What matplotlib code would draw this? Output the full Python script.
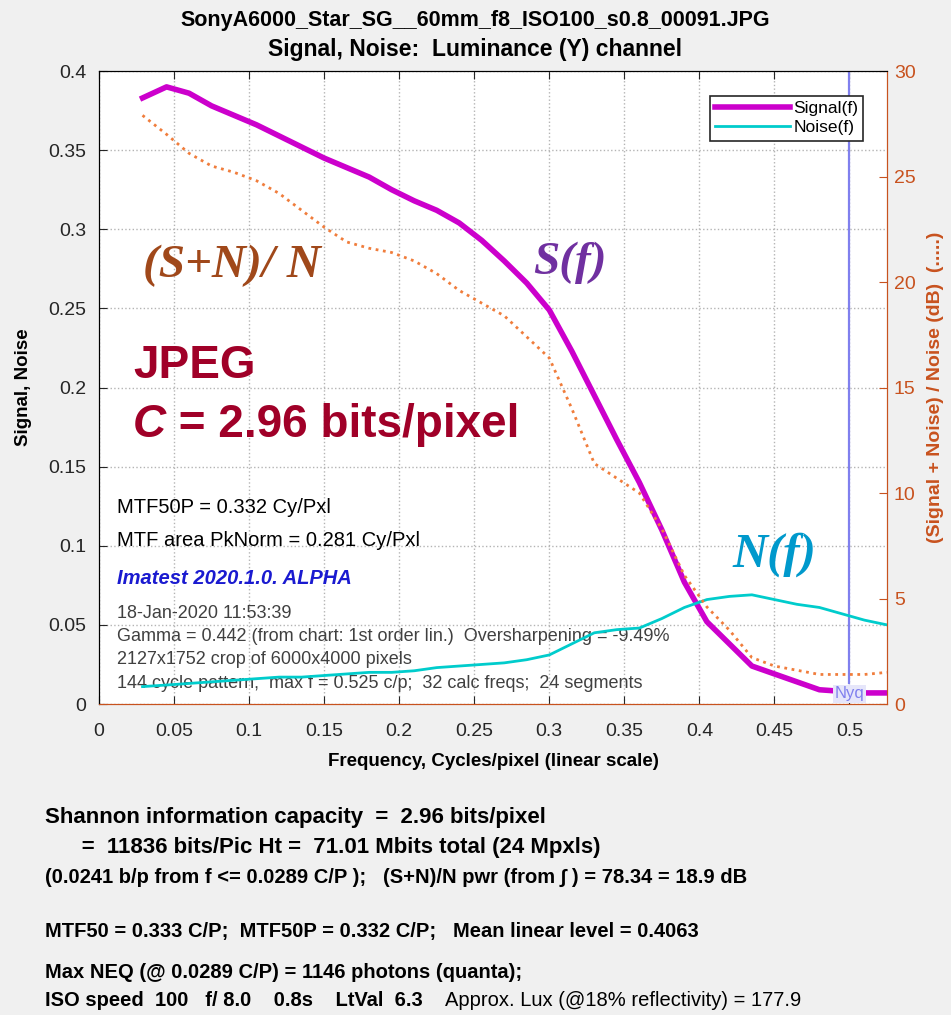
import matplotlib
matplotlib.use("Agg")
import matplotlib.pyplot as plt
from matplotlib.patches import Rectangle

# values
freq = [0.029, 0.045, 0.06, 0.075, 0.09, 0.105, 0.12, 0.135, 0.15, 0.165, 0.18, 0.195,
        0.21, 0.225, 0.24, 0.255, 0.27, 0.285, 0.30, 0.315, 0.33, 0.345, 0.36, 0.375,
        0.39, 0.405, 0.42, 0.435, 0.45, 0.465, 0.48, 0.495, 0.51, 0.525]
signal = [0.383, 0.390, 0.386, 0.378, 0.372, 0.366, 0.359, 0.352, 0.345, 0.339, 0.333, 0.325,
          0.318, 0.312, 0.304, 0.293, 0.280, 0.266, 0.249, 0.223, 0.195, 0.167, 0.140, 0.110,
          0.077, 0.052, 0.038, 0.024, 0.019, 0.014, 0.009, 0.008, 0.007, 0.007]
noise = [0.011, 0.012, 0.013, 0.014, 0.015, 0.016, 0.017, 0.017, 0.018, 0.019, 0.020, 0.020,
         0.021, 0.023, 0.024, 0.025, 0.026, 0.028, 0.031, 0.038, 0.045, 0.047, 0.048, 0.054,
         0.061, 0.066, 0.068, 0.069, 0.066, 0.063, 0.061, 0.057, 0.053, 0.050]
snr_db = [27.9, 27.0, 26.1, 25.5, 25.2, 24.8, 24.2, 23.4, 22.6, 21.9, 21.6, 21.4,
          21.0, 20.4, 19.6, 19.0, 18.4, 17.4, 16.4, 14.0, 11.4, 10.7, 10.0, 8.3,
          6.1, 4.6, 3.5, 2.2, 1.8, 1.6, 1.4, 1.4, 1.4, 1.5]
nyq = 0.5

xticks = [0, 0.05, 0.1, 0.15, 0.2, 0.25, 0.3, 0.35, 0.4, 0.45, 0.5]
yticks = [0, 0.05, 0.1, 0.15, 0.2, 0.25, 0.3, 0.35, 0.4]
db_ticks = [0, 5, 10, 15, 20, 25, 30]

info_lines = [
    "18-Jan-2020 11:53:39",
    "Gamma = 0.442 (from chart: 1st order lin.)  Oversharpening = -9.49%",
    "2127x1752 crop of 6000x4000 pixels",
    "144 cycle pattern;  max f = 0.525 c/p;  32 calc freqs;  24 segments",
]

plt.rcParams['font.family'] = ['Liberation Sans', 'DejaVu Sans']
sans = ['Liberation Sans', 'DejaVu Sans']
serif = ['Liberation Serif', 'DejaVu Serif']
orange = '#c8521e'

fig = plt.figure(figsize=(9.51, 10.15), dpi=100, facecolor='#f0f0f0')
ax_rect = [0.1041, 0.3064, 0.8286, 0.6236]
# white plot area drawn on the figure itself, behind both axes
fig.add_artist(Rectangle(ax_rect[:2], ax_rect[2], ax_rect[3], transform=fig.transFigure,
                         facecolor='white', edgecolor='none', zorder=-1))
ax = fig.add_axes(ax_rect)

ax.plot(freq, signal, color='#cc00cc', lw=4, label='Signal(f)', zorder=4)
ax.plot(freq, noise, color='#00cccc', lw=2, label='Noise(f)', zorder=4)
ax.plot([nyq, nyq], [0.013, 0.4], color='#8080ee', lw=1.6, zorder=2)
ax.text(nyq, 0.0065, 'Nyq', color='#8080ee', fontsize=12, ha='center', va='center',
        bbox=dict(facecolor='#e6e6fa', edgecolor='none', pad=1), zorder=5)

ax.set_xlim(0, 0.525)
ax.set_ylim(0, 0.4)
ax.set_xticks(xticks)
ax.set_xticklabels([f'{v:g}' for v in xticks])
ax.set_yticks(yticks)
ax.set_yticklabels([f'{v:g}' for v in yticks])
ax.tick_params(labelsize=14, direction='in', length=6, top=True, right=True,
               colors='#262626', pad=9)
ax.tick_params(axis='x', pad=14)
ax.grid(True, ls=':', color='#b4b4b4', lw=1)
ax.spines['bottom'].set_color(orange)
ax.spines['right'].set_color(orange)
ax.set_xlabel('Frequency, Cycles/pixel (linear scale)', fontsize=13.5, fontweight='bold',
              labelpad=9)
ax.set_ylabel('Signal, Noise', fontsize=13.5, fontweight='bold', labelpad=12)

leg = ax.legend(loc='upper right', bbox_to_anchor=(0.981, 0.975), fontsize=12.5,
                fancybox=False, edgecolor='#262626', facecolor='white', framealpha=1,
                handlelength=4.3, borderpad=0.3, labelspacing=0.25, handletextpad=0.2)
leg.get_frame().set_linewidth(1.2)

# signal-to-noise ratio on the right axis
ax2 = ax.twinx()
ax2.plot(freq, snr_db, color='#f07d3c', lw=2, ls=':', zorder=3)
ax2.set_ylim(0, 30)
ax2.set_yticks(db_ticks)
ax2.tick_params(labelsize=14, colors=orange, direction='in', length=6, pad=5)
ax2.spines['right'].set_color(orange)
ax2.spines['bottom'].set_color(orange)
ax2.set_ylabel('(Signal + Noise) / Noise (dB)  (.....)', color=orange, fontsize=14,
               fontweight='bold', labelpad=8)
ax.patch.set_visible(False)
ax2.patch.set_visible(False)

# big annotations
ax.text(0.029, 0.270, '(S+N)/ N', color='#a0481a', fontsize=34, family=serif,
        fontweight='bold', style='italic')
ax.text(0.289, 0.272, 'S(f)', color='#7030a0', fontsize=34, family=serif,
        fontweight='bold', style='italic')
ax.text(0.422, 0.087, 'N(f)', color='#0099cc', fontsize=35, family=serif,
        fontweight='bold', style='italic')
ax.text(0.0227, 0.206, 'JPEG', color='#a00028', fontsize=33, fontweight='bold', family=sans)
c_txt = ax.text(0.0227, 0.1687, 'C', color='#a00028', fontsize=33, fontweight='bold',
                style='italic', family=sans)
fig.canvas.draw()
c_end = ax.transData.inverted().transform(c_txt.get_window_extent().get_points())[1][0]
ax.text(c_end, 0.1687, ' = 2.96 bits/pixel', color='#a00028', fontsize=33,
        fontweight='bold', family=sans)

ax.text(0.012, 0.1239, 'MTF50P = 0.332 Cy/Pxl', fontsize=14.5, va='center', family=sans)
ax.text(0.012, 0.1036, 'MTF area PkNorm = 0.281 Cy/Pxl', fontsize=14.5, va='center',
        family=sans)
ax.text(0.012, 0.0796, 'Imatest 2020.1.0. ALPHA', fontsize=14.5, va='center',
        color='#1a1ad0', fontweight='bold', style='italic', family=sans)
for i, line in enumerate(info_lines):
    ax.text(0.012, 0.0575 - i * 0.0148, line, fontsize=13, va='center', color='#404040',
            family=sans)

fig.text(0.5, 0.980, 'SonyA6000_Star_SG__60mm_f8_ISO100_s0.8_00091.JPG', ha='center',
         va='center', fontsize=15.5, fontweight='bold')
fig.text(0.5, 0.951, 'Signal, Noise:  Luminance (Y) channel', ha='center', va='center',
         fontsize=16.5, fontweight='bold')

# bottom summary block
bx = 45 / 951
fig.text(bx, 1 - 818 / 1015, 'Shannon information capacity  =  2.96 bits/pixel',
         fontsize=16, fontweight='bold', va='center')
fig.text(bx, 1 - 848 / 1015, '      =  11836 bits/Pic Ht =  71.01 Mbits total (24 Mpxls)',
         fontsize=16, fontweight='bold', va='center')
fig.text(bx, 1 - 877 / 1015,
         '(0.0241 b/p from f <= 0.0289 C/P );   (S+N)/N pwr (from \u222b ) = 78.34 = 18.9 dB',
         fontsize=14.5, fontweight='bold', va='center')
fig.text(bx, 1 - 931 / 1015,
         'MTF50 = 0.333 C/P;  MTF50P = 0.332 C/P;   Mean linear level = 0.4063',
         fontsize=14.5, fontweight='bold', va='center')
fig.text(bx, 1 - 973 / 1015, 'Max NEQ (@ 0.0289 C/P) = 1146 photons (quanta);',
         fontsize=14.5, fontweight='bold', va='center')
t = fig.text(bx, 1 - 1000 / 1015, 'ISO speed  100   f/ 8.0    0.8s    LtVal  6.3    ',
             fontsize=14.5, fontweight='bold', va='center')
fig.canvas.draw()
bb = t.get_window_extent()
fig.text(bb.x1 / fig.bbox.width, 1 - 1000 / 1015,
         'Approx. Lux (@18% reflectivity) = 177.9', fontsize=14.5, va='center')

fig.savefig('out.png', dpi=100, facecolor=fig.get_facecolor())
